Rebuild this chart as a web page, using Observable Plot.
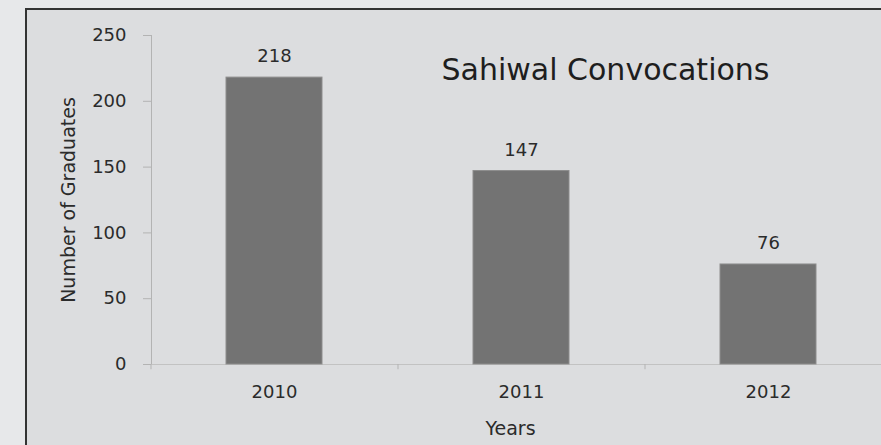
<!DOCTYPE html>
<html>
<head>
<meta charset="utf-8">
<script src="https://cdn.jsdelivr.net/npm/d3@7"></script>
<script src="https://cdn.jsdelivr.net/npm/@observablehq/plot@0.6"></script>
<style>
  html, body { margin: 0; padding: 0; background: #e7e8ea; width: 881px; height: 445px; overflow: hidden; }
  #panel { position: absolute; left: 25px; top: 8px; width: 900px; height: 480px;
           background: #dcdddf; border-left: 2px solid #333; border-top: 2px solid #333; }
  #chart { position: absolute; left: 0; top: 0; }
  #chart svg { background: transparent; }
</style>
</head>
<body>
<div id="panel"></div>
<div id="chart"></div>
<script>
const years = ["2010", "2011", "2012"];
const graduates = [218, 147, 76];
const yTicks = [0, 50, 100, 150, 200, 250];
const title = "Sahiwal Convocations";
const yLabel = "Number of Graduates";
const xLabel = "Years";

const data = years.map((y, i) => ({year: y, value: graduates[i]}));

const xRange = [151, 892];
const step = (xRange[1] - xRange[0]) / years.length;
const font = "DejaVu Sans, sans-serif";

const chart = Plot.plot({
  width: 881,
  height: 445,
  marginLeft: 151,
  marginRight: 0,
  marginTop: 35,
  marginBottom: 81,
  style: {background: "transparent", fontFamily: font, color: "#2b2b2b", overflow: "visible"},
  x: {domain: years, range: xRange, paddingInner: 0.611, paddingOuter: 0.3055},
  y: {domain: [0, 250], range: [364, 35]},
  marks: [
    Plot.frame({anchor: "left", stroke: "#b3b3b3"}),
    Plot.ruleY([0], {stroke: "#c2c2c2"}),
    Plot.ruleX(years, {x: d => d, dx: -step / 2, y1: 0, y2: -4, stroke: "#b3b3b3"}),
    Plot.barY(data, {x: "year", y: "value", fill: "#737373", stroke: "#8d8d8d", strokeWidth: 1}),
    Plot.text(data, {x: "year", y: "value", text: d => String(d.value), lineAnchor: "bottom", dy: -15.5, fontSize: 18, fill: "#2b2b2b"}),
    Plot.axisY({ticks: yTicks, tickSize: 8, tickPadding: 17, stroke: "#b3b3b3", fontSize: 18, label: null, fill: "#2b2b2b"}),
    Plot.axisX({tickSize: 0, tickPadding: 21, fontSize: 18, label: null, fill: "#2b2b2b"}),
    Plot.text([yLabel], {frameAnchor: "left", dx: -83, rotate: -90, textAnchor: "middle", fontSize: 19, fill: "#2b2b2b"}),
    Plot.text([xLabel], {frameAnchor: "bottom", dx: -6, dy: 70.5, lineAnchor: "bottom", textAnchor: "middle", fontSize: 19, fill: "#2b2b2b"}),
    Plot.text([title], {frameAnchor: "top-left", dx: 290, dy: 44, lineAnchor: "bottom", textAnchor: "start", fontSize: 30, fill: "#1e1e1e"})
  ]
});
document.getElementById("chart").appendChild(chart);
</script>
</body>
</html>
